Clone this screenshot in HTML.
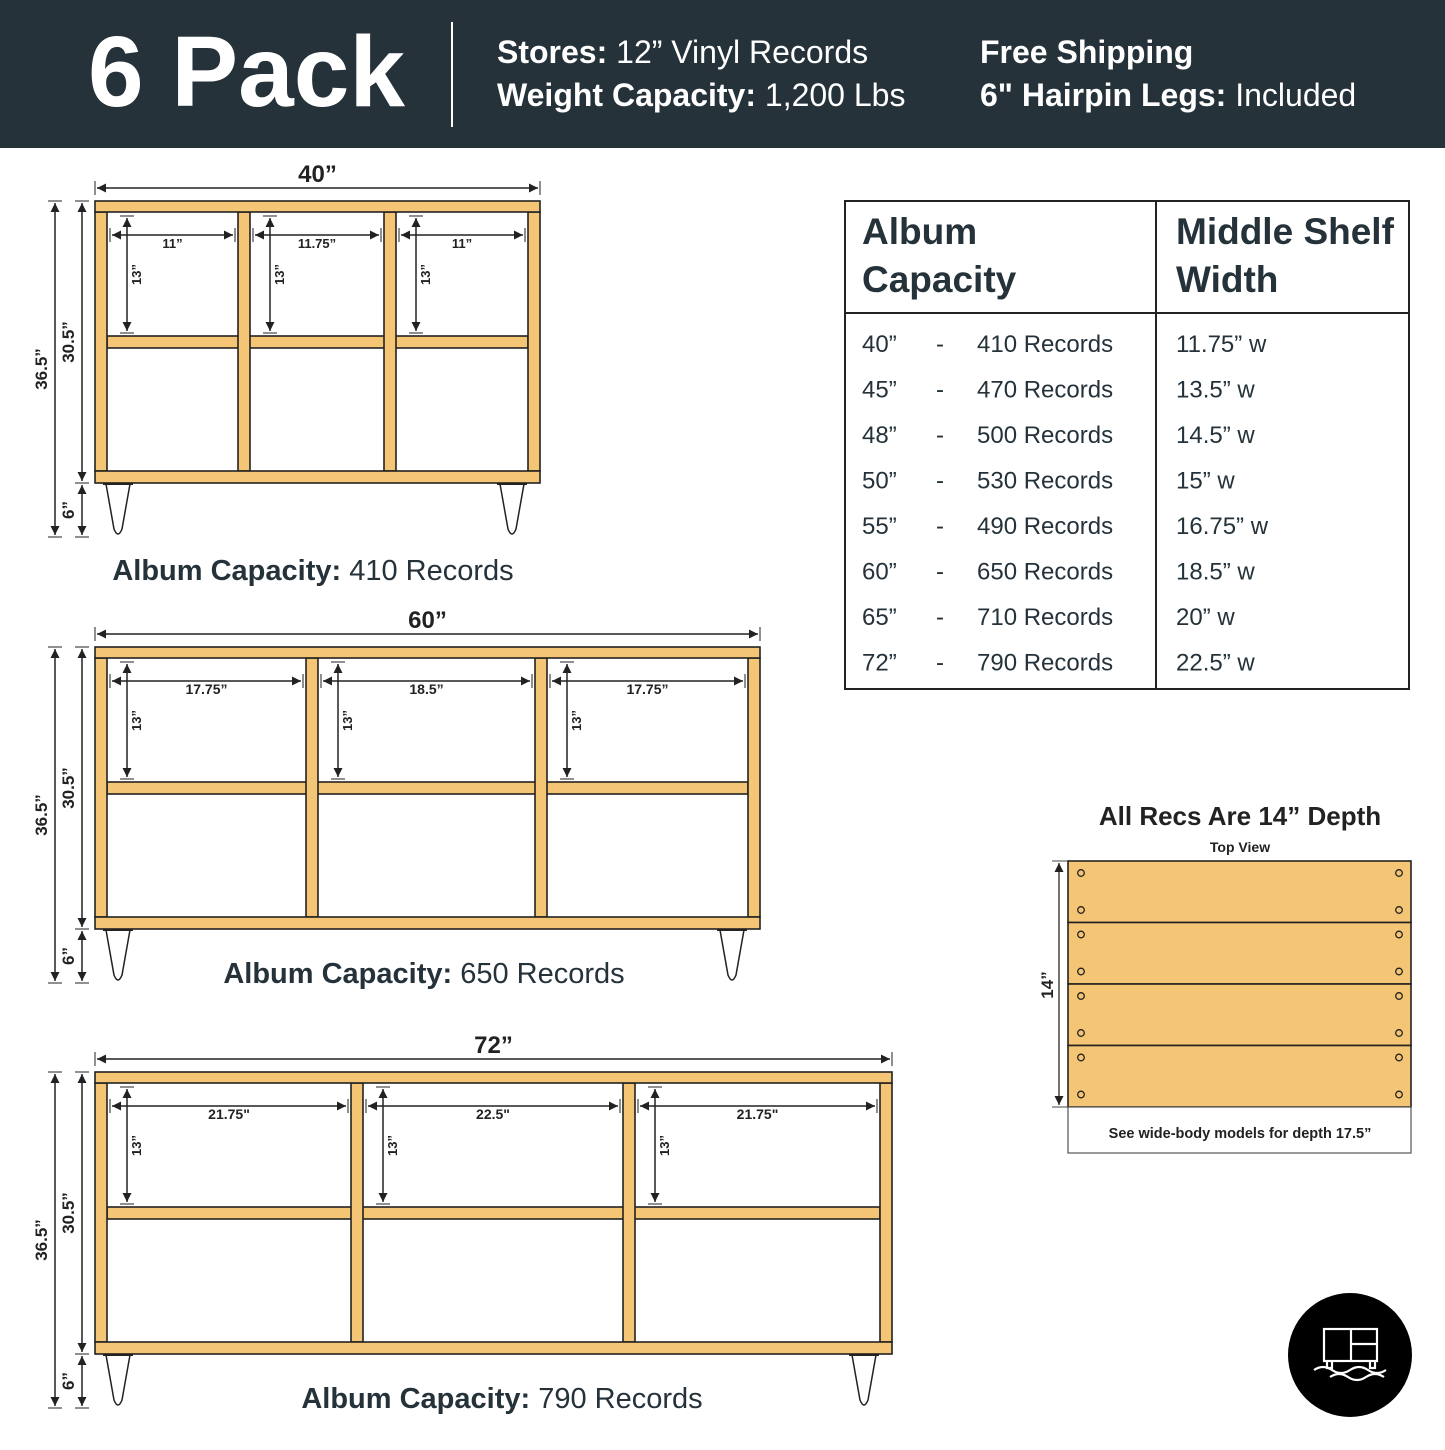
<!DOCTYPE html>
<html><head><meta charset="utf-8"><style>
html,body{margin:0;padding:0;background:#fff}
body{width:1445px;height:1445px;overflow:hidden;position:relative;font-family:"Liberation Sans",sans-serif}
svg text{font-family:"Liberation Sans",sans-serif}
</style></head><body>
<svg id="s" width="1445" height="1445" viewBox="0 0 1445 1445" xmlns="http://www.w3.org/2000/svg">
<defs>
<marker id="a" viewBox="0 0 10 10" refX="10" refY="5" markerWidth="9" markerHeight="9" orient="auto-start-reverse" markerUnits="userSpaceOnUse"><path d="M0,0 L10,5 L0,10 z" fill="#222"/></marker>
</defs>
<rect x="0" y="0" width="1445" height="148" fill="#25323a"/>
<text x="88" y="106" font-size="100" font-weight="bold" fill="#fff">6 Pack</text>
<line x1="452" y1="22" x2="452" y2="127" stroke="#fff" stroke-width="2"/>
<g font-size="32" fill="#fff">
<text x="497" y="63"><tspan font-weight="bold">Stores:</tspan> 12” Vinyl Records</text>
<text x="497" y="106"><tspan font-weight="bold">Weight Capacity:</tspan> 1,200 Lbs</text>
<text x="980" y="63" font-weight="bold">Free Shipping</text>
<text x="980" y="106"><tspan font-weight="bold">6" Hairpin Legs:</tspan> Included</text>
</g>
<g id="cabs"></g>
<rect x="845" y="201" width="564" height="488" fill="none" stroke="#222" stroke-width="2"/>
<line x1="1156" y1="201" x2="1156" y2="689" stroke="#222" stroke-width="2"/>
<line x1="845" y1="313" x2="1409" y2="313" stroke="#222" stroke-width="2"/>
<g font-size="37" font-weight="bold" fill="#25323a">
<text x="862" y="244">Album</text><text x="862" y="292">Capacity</text>
<text x="1176" y="244">Middle Shelf</text><text x="1176" y="292">Width</text>
</g>
<g id="rows" font-size="24" fill="#25323a"></g>
<text x="1240" y="825" font-size="26" font-weight="bold" text-anchor="middle" fill="#222">All Recs Are 14” Depth</text>
<text x="1240" y="852" font-size="14" font-weight="bold" text-anchor="middle" fill="#222">Top View</text>
<g id="tv"></g>
<rect x="1068" y="1107" width="343" height="46" fill="#fff" stroke="#555" stroke-width="1.2"/>
<text x="1240" y="1138" font-size="14.5" font-weight="bold" text-anchor="middle" fill="#222">See wide-body models for depth 17.5”</text>
<line x1="1059" y1="863" x2="1059" y2="1105" stroke="#444" stroke-width="1.5" marker-start="url(#a)" marker-end="url(#a)"/>
<line x1="1052" y1="861" x2="1068" y2="861" stroke="#444"/><line x1="1052" y1="1107" x2="1068" y2="1107" stroke="#444"/>
<text transform="translate(1053,985) rotate(-90)" font-size="17" font-weight="bold" text-anchor="middle" fill="#222">14”</text>
<circle cx="1350" cy="1355" r="62" fill="#000"/>
<g stroke="#fff" stroke-width="2.2" fill="none">
<rect x="1324" y="1329" width="53" height="32"/>
<line x1="1351" y1="1329" x2="1351" y2="1361"/><line x1="1351" y1="1344" x2="1377" y2="1344"/>
<path d="M1327,1361 v7 h5 v-7 M1370,1361 v7 h5 v-7"/>
<path d="M1314,1370 q9,-6 18,0 t18,0 t18,0 t18,0"/>
<path d="M1330,1377 q9,-6 18,0 t18,0 t18,0"/>
</g>
</svg>
<script>
let h="";
const Y="#f4c574",K="#222";
function dimH(x1,x2,y,lab,ly,fs,fw){
 return `<line x1="${x1+2}" y1="${y}" x2="${x2-2}" y2="${y}" stroke="${K}" stroke-width="1.5" marker-start="url(#a)" marker-end="url(#a)"/>
 <line x1="${x1}" y1="${y-7}" x2="${x1}" y2="${y+7}" stroke="${K}"/><line x1="${x2}" y1="${y-7}" x2="${x2}" y2="${y+7}" stroke="${K}"/>
 <text x="${(x1+x2)/2}" y="${ly}" font-size="${fs}" font-weight="${fw}" text-anchor="middle" fill="${K}">${lab}</text>`;
}
function dimV(x,y1,y2,lab,lx,fs){
 return `<line x1="${x}" y1="${y1+2}" x2="${x}" y2="${y2-2}" stroke="${K}" stroke-width="1.5" marker-start="url(#a)" marker-end="url(#a)"/>
 <line x1="${x-7}" y1="${y1}" x2="${x+7}" y2="${y1}" stroke="${K}"/><line x1="${x-7}" y1="${y2}" x2="${x+7}" y2="${y2}" stroke="${K}"/>
 <text transform="translate(${lx},${(y1+y2)/2}) rotate(-90)" font-size="${fs}" font-weight="bold" text-anchor="middle" fill="${K}">${lab}</text>`;
}
function cab(X0,X1,T,d1,d2,wl,inner,cap,capx,capy,ifs){
 const B=T+270, L=B+66, S=T+135;
 let s="";
 s+=dimH(X0,X1,T-13,wl,T-19,24,"bold");
 s+=dimV(55,T,L,"36.5”",47,17);
 s+=dimV(82,T,B+12,"30.5”",74,17);
 s+=dimV(82,B+12,L,"6”",74,17);
 const r=(x,y,w,hh)=>`<rect x="${x}" y="${y}" width="${w}" height="${hh}" fill="${Y}" stroke="${K}" stroke-width="1.6"/>`;
 s+=r(X0+12,S,X1-X0-24,12);
 s+=r(X0,T+11,12,B-T-11);s+=r(X1-12,T+11,12,B-T-11);
 s+=r(d1,T+11,12,B-T-11);s+=r(d2,T+11,12,B-T-11);
 s+=r(X0,T,X1-X0,11);s+=r(X0,B,X1-X0,12);
 const leg=(a)=>`<path d="M${a},${B+13} L${a+8},${L-8} Q${a+12},${L+2} ${a+16},${L-8} L${a+24},${B+13}" fill="none" stroke="${K}" stroke-width="1.5"/><line x1="${a-3}" y1="${B+13}" x2="${a+27}" y2="${B+13}" stroke="${K}" stroke-width="2"/>`;
 s+=leg(X0+11);s+=leg(X1-40);
 const bays=[[X0+12,d1],[d1+12,d2],[d2+12,X1-12]];
 bays.forEach((b,i)=>{
  s+=dimH(b[0]+3,b[1]-3,T+34,inner[i],T+47,ifs,"bold");
  s+=dimV(b[0]+20,T+15,S-3,"13”",b[0]+34,13);
 });
 s+=`<text x="${capx}" y="${capy}" font-size="29" text-anchor="middle" fill="#25323a"><tspan font-weight="bold">Album Capacity:</tspan> ${cap}</text>`;
 return s;
}
h+=cab(95,540,201,238,384,"40”",["11”","11.75”","11”"],"410 Records",313,580,13);
h+=cab(95,760,647,306,535,"60”",["17.75”","18.5”","17.75”"],"650 Records",424,983,14);
h+=cab(95,892,1072,351,623,"72”",['21.75"','22.5"','21.75"'],"790 Records",502,1408,14);
document.getElementById("cabs").innerHTML=h;
const rows=[["40”","410","11.75”"],["45”","470","13.5”"],["48”","500","14.5”"],["50”","530","15”"],["55”","490","16.75”"],["60”","650","18.5”"],["65”","710","20”"],["72”","790","22.5”"]];
let rr="";
rows.forEach((r,i)=>{const y=352+i*45.5;
 rr+=`<text x="862" y="${y}">${r[0]}</text><text x="936" y="${y}">-</text><text x="977" y="${y}">${r[1]} Records</text><text x="1176" y="${y}">${r[2]} w</text>`;});
document.getElementById("rows").innerHTML=rr;
let t="";
for(let i=0;i<4;i++){const y=861+i*61.5;
 t+=`<rect x="1068" y="${y}" width="343" height="61.5" fill="${Y}" stroke="${K}" stroke-width="1.6"/>`;
 [1081,1399].forEach(x=>{[12,49].forEach(o=>{t+=`<circle cx="${x}" cy="${y+o}" r="3.3" fill="none" stroke="${K}" stroke-width="1.3"/>`;});});
}
document.getElementById("tv").innerHTML=t;
</script>
</body></html>
